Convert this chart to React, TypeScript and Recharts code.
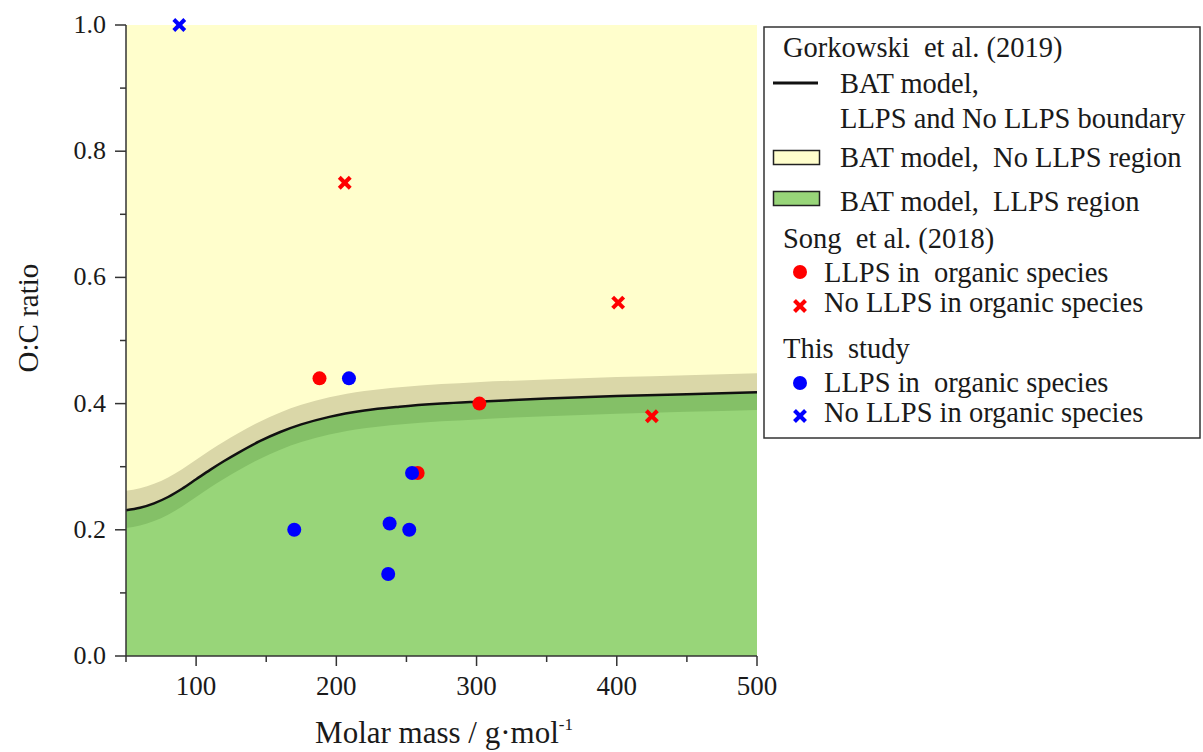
import React from "react";
import {
  Area,
  CartesianGrid,
  ComposedChart,
  Line,
  Scatter,
  XAxis,
  YAxis,
} from "recharts";

// BAT model boundary (Gorkowski et al. 2019)
const massGrid = [50, 60, 70, 80, 90, 100, 110, 120, 130, 145, 160, 175, 195, 220, 245, 275, 300, 350, 400, 450, 500];
const boundaryOC = [0.231, 0.235, 0.242, 0.252, 0.265, 0.28, 0.295, 0.309, 0.322, 0.34, 0.355, 0.367, 0.379, 0.389, 0.395, 0.4, 0.403, 0.408, 0.412, 0.415, 0.418];
const bandUpperOC = [0.262, 0.266, 0.273, 0.283, 0.296, 0.311, 0.326, 0.34, 0.353, 0.371, 0.386, 0.398, 0.41, 0.42, 0.426, 0.431, 0.434, 0.438, 0.442, 0.445, 0.448];
const bandLowerOC = [0.203, 0.207, 0.214, 0.224, 0.237, 0.252, 0.267, 0.281, 0.294, 0.312, 0.327, 0.339, 0.351, 0.361, 0.367, 0.372, 0.375, 0.38, 0.384, 0.387, 0.39];

// Song et al. (2018)
const songLLPSMass = [188, 302, 258];
const songLLPSOC = [0.44, 0.4, 0.29];
const songNoLLPSMass = [206, 401, 425];
const songNoLLPSOC = [0.75, 0.56, 0.38];

// This study
const studyLLPSMass = [209, 170, 238, 252, 237, 254];
const studyLLPSOC = [0.44, 0.2, 0.21, 0.2, 0.13, 0.29];
const studyNoLLPSMass = [88];
const studyNoLLPSOC = [1.0];

const xTicks = [50, 100, 150, 200, 250, 300, 350, 400, 450, 500];
const xMajor = [100, 200, 300, 400, 500];
const yTicks = [0, 0.1, 0.2, 0.3, 0.4, 0.5, 0.6, 0.7, 0.8, 0.9, 1.0];
const yMajor = [0, 0.2, 0.4, 0.6, 0.8, 1.0];

const FONT = '"Liberation Serif", "Times New Roman", serif';
const YELLOW = "#FFFECC";
const BEIGE = "#DAD7A8";
const DARK_GREEN = "#84C067";
const GREEN = "#98D579";
const RED = "#FF0000";
const BLUE = "#0000FF";
const AXIS = "#333";
const TEXT = "#1a1a1a";

const curveData = massGrid.map((x, i) => ({
  x,
  curve: boundaryOC[i],
  upper: bandUpperOC[i],
  lower: bandLowerOC[i],
}));

const pts = (xs: number[], ys: number[]) => xs.map((x, i) => ({ x, y: ys[i] }));

const Dot = (color: string) => (p: any) => <circle cx={p.cx} cy={p.cy} r={7} fill={color} />;

const Cross = ({ cx, cy, color }: { cx: number; cy: number; color: string }) => (
  <g stroke={color} strokeWidth={4}>
    <line x1={cx - 5.5} y1={cy - 5.5} x2={cx + 5.5} y2={cy + 5.5} />
    <line x1={cx - 5.5} y1={cy + 5.5} x2={cx + 5.5} y2={cy - 5.5} />
  </g>
);

const CrossShape = (color: string) => (p: any) => <Cross cx={p.cx} cy={p.cy} color={color} />;

const XTick = (props: any) => {
  const { x, y, payload } = props;
  const major = xMajor.includes(payload.value);
  return (
    <g>
      <line x1={x} x2={x} y1={y} y2={y + (major ? 10 : 6)} stroke={AXIS} strokeWidth={1.5} />
      {major && (
        <text x={x} y={y + 39} textAnchor="middle" fontSize={27} fontFamily={FONT} fill={TEXT}>
          {payload.value}
        </text>
      )}
    </g>
  );
};

const YTick = (props: any) => {
  const { x, y, payload } = props;
  const major = yMajor.some((v) => Math.abs(v - payload.value) < 1e-6);
  return (
    <g>
      <line x1={x - (major ? 11 : 6)} x2={x} y1={y} y2={y} stroke={AXIS} strokeWidth={1.5} />
      {major && (
        <text x={x - 20} y={y + 8} textAnchor="end" fontSize={26} fontFamily={FONT} fill={TEXT}>
          {payload.value.toFixed(1)}
        </text>
      )}
    </g>
  );
};

const LegendBox = () => {
  const fs = 28.5;
  const t = (x: number, cy: number, s: string) => (
    <text x={x} y={cy + 9.5} fontSize={fs} fontFamily={FONT} fill={TEXT} style={{ whiteSpace: "pre" }}>
      {s}
    </text>
  );
  return (
    <g>
      <rect x={764} y={27} width={436} height={411} fill="#fff" stroke={AXIS} strokeWidth={1.5} />
      {t(783, 47, "Gorkowski  et al. (2019)")}
      <line x1={773} x2={818} y1={83} y2={83} stroke="#111" strokeWidth={3} />
      {t(840, 83, "BAT model,")}
      {t(840, 118, "LLPS and No LLPS boundary")}
      <rect x={773.5} y={150.5} width={46} height={14} fill={YELLOW} stroke="#222" strokeWidth={1.5} />
      {t(840, 157, "BAT model,  No LLPS region")}
      <rect x={773.5} y={191.5} width={46} height={14} fill={GREEN} stroke="#222" strokeWidth={1.5} />
      {t(840, 201, "BAT model,  LLPS region")}
      {t(783, 238, "Song  et al. (2018)")}
      <circle cx={800} cy={272} r={7} fill={RED} />
      {t(824, 272, "LLPS in  organic species")}
      <Cross cx={800} cy={306} color={RED} />
      {t(824, 302, "No LLPS in organic species")}
      {t(783, 348, "This  study")}
      <circle cx={800} cy={383} r={7} fill={BLUE} />
      {t(824, 382, "LLPS in  organic species")}
      <Cross cx={800} cy={416} color={BLUE} />
      {t(824, 412, "No LLPS in organic species")}
    </g>
  );
};

export default function App() {
  return (
    <div style={{ position: "absolute", left: 0, top: 0, width: 1203, height: 752, background: "#fff" }}>
      <ComposedChart
        width={1203}
        height={752}
        data={curveData}
        margin={{ top: 25, right: 446, bottom: 0, left: 0 }}
      >
        <CartesianGrid fill={YELLOW} horizontal={false} vertical={false} />
        <XAxis
          type="number"
          dataKey="x"
          domain={[50, 500]}
          ticks={xTicks}
          interval={0}
          height={96}
          tickSize={0}
          tickMargin={0}
          tickLine={false}
          tick={XTick}
          axisLine={{ stroke: AXIS, strokeWidth: 1.5 }}
        />
        <YAxis
          type="number"
          domain={[0, 1]}
          ticks={yTicks}
          interval={0}
          width={126}
          tickSize={0}
          tickMargin={0}
          tickLine={false}
          tick={YTick}
          axisLine={{ stroke: AXIS, strokeWidth: 1.5 }}
        />
        <Area dataKey="upper" type="monotone" baseValue={0} fill={BEIGE} fillOpacity={1} stroke="none" dot={false} activeDot={false} isAnimationActive={false} />
        <Area dataKey="curve" type="monotone" baseValue={0} fill={DARK_GREEN} fillOpacity={1} stroke="none" dot={false} activeDot={false} isAnimationActive={false} />
        <Area dataKey="lower" type="monotone" baseValue={0} fill={GREEN} fillOpacity={1} stroke="none" dot={false} activeDot={false} isAnimationActive={false} />
        <Line dataKey="curve" type="monotone" stroke="#111" strokeWidth={2.5} dot={false} activeDot={false} isAnimationActive={false} />
        <Scatter data={pts(songLLPSMass, songLLPSOC)} dataKey="y" shape={Dot(RED)} isAnimationActive={false} />
        <Scatter data={pts(songNoLLPSMass, songNoLLPSOC)} dataKey="y" shape={CrossShape(RED)} isAnimationActive={false} />
        <Scatter data={pts(studyLLPSMass, studyLLPSOC)} dataKey="y" shape={Dot(BLUE)} isAnimationActive={false} />
        <Scatter data={pts(studyNoLLPSMass, studyNoLLPSOC)} dataKey="y" shape={CrossShape(BLUE)} isAnimationActive={false} />
      </ComposedChart>
      <svg width={1203} height={752} style={{ position: "absolute", left: 0, top: 0, pointerEvents: "none" }}>
        <LegendBox />
        <text x={444} y={743} textAnchor="middle" fontSize={31} fontFamily={FONT} fill={TEXT}>
          Molar mass / g·mol
          <tspan fontSize={17} dy={-13}>-1</tspan>
        </text>
        <text
          x={38}
          y={318}
          textAnchor="middle"
          fontSize={29}
          fontFamily={FONT}
          fill={TEXT}
          transform="rotate(-90 38 318)"
        >
          O:C ratio
        </text>
      </svg>
    </div>
  );
}
